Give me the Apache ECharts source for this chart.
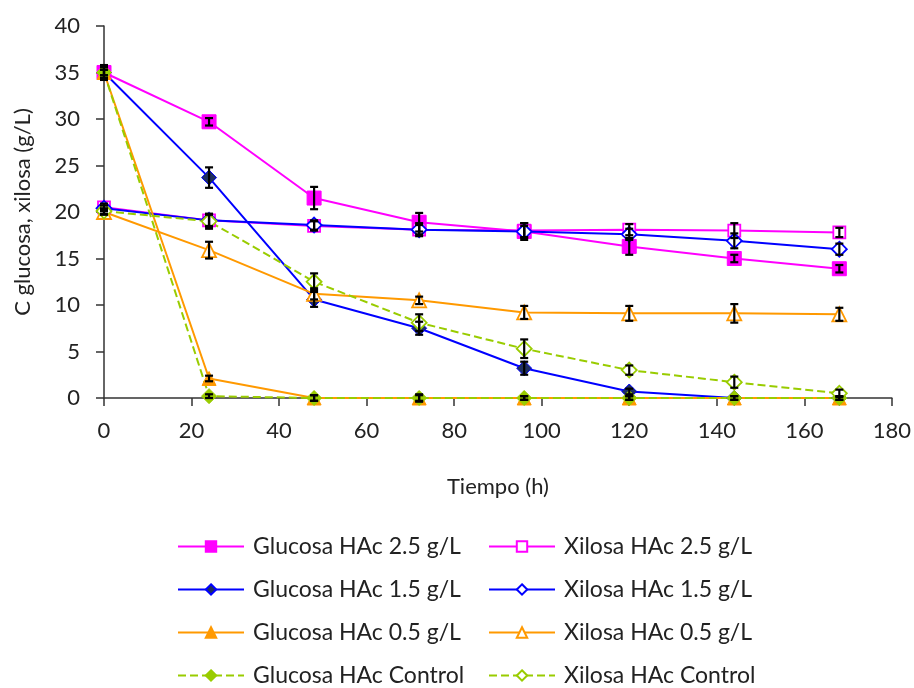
<!DOCTYPE html>
<html>
<head>
<meta charset="utf-8">
<script src="https://cdn.jsdelivr.net/npm/echarts@6/dist/echarts.min.js"></script>
<style>html,body{margin:0;padding:0;background:#fff}#c{width:914px;height:688px}</style>
</head>
<body>
<div id="c"></div>
<script>
const tiempo = [0, 24, 48, 72, 96, 120, 144, 168];

const glucosa25 = [35.0, 29.7, 21.5, 18.9, 17.9, 16.3, 15.0, 13.9];
const xilosa25  = [20.5, 19.1, 18.5, 18.1, 18.0, 18.1, 18.0, 17.8];
const glucosa15 = [35.0, 23.7, 10.6, 7.5, 3.2, 0.7, 0.0, 0.0];
const xilosa15  = [20.4, 19.1, 18.6, 18.1, 17.9, 17.6, 16.9, 16.0];
const glucosa05 = [35.0, 2.1, 0.0, 0.0, 0.0, 0.0, 0.0, 0.0];
const xilosa05  = [20.0, 15.9, 11.2, 10.5, 9.2, 9.1, 9.1, 9.0];
const glucosaC  = [35.0, 0.2, 0.0, 0.0, 0.0, 0.0, 0.0, 0.0];
const xilosaC   = [20.1, 19.0, 12.5, 8.1, 5.3, 3.0, 1.7, 0.5];

const errG25 = [0.6, 0.4, 1.2, 1.0, 0.9, 0.9, 0.4, 0.4];
const errX25 = [0.4, 0.6, 0.5, 0.7, 0.8, 0.6, 0.8, 0.5];
const errG15 = [0.8, 1.1, 0.8, 0.7, 0.7, 0.3, 0.0, 0.0];
const errX15 = [0.3, 0.7, 0.5, 0.5, 0.6, 0.6, 0.8, 0.6];
const errG05 = [0.3, 0.3, 0.3, 0.3, 0.2, 0.2, 0.2, 0.2];
const errX05 = [0.3, 0.9, 0.6, 0.4, 0.7, 0.8, 1.0, 0.7];
const errGC  = [0.3, 0.2, 0.3, 0.4, 0.2, 0.2, 0.2, 0.2];
const errXC  = [0.3, 0.8, 0.9, 0.9, 1.0, 0.5, 0.6, 0.4];

const names = [
  'Glucosa HAc 2.5 g/L', 'Xilosa HAc 2.5 g/L',
  'Glucosa HAc 1.5 g/L', 'Xilosa HAc 1.5 g/L',
  'Glucosa HAc 0.5 g/L', 'Xilosa HAc 0.5 g/L',
  'Glucosa HAc Control', 'Xilosa HAc Control'
];
const xTicks = [0, 20, 40, 60, 80, 100, 120, 140, 160, 180];
const yTicks = [0, 5, 10, 15, 20, 25, 30, 35, 40];

const MAG = '#FF00FF', BLUE = '#0000FF', NAVY = '#1F2F5F', ORA = '#FF9900', GRN = '#99CC00';
const FONT = 'Lato';

function pairs(vals) { return tiempo.map((t, i) => [t, vals[i]]); }

function mkLine(name, vals, color, symbol, fill, dashed, size) {
  return {
    name: name, type: 'line', data: pairs(vals),
    symbol: symbol, symbolSize: size,
    showAllSymbol: true,
    lineStyle: { color: color, width: 2, type: dashed ? [8, 4] : 'solid' },
    itemStyle: { color: fill, borderColor: color, borderWidth: (fill === '#fff') ? 1.8 : 1 },
    emphasis: { disabled: true },
    z: 3
  };
}

const seriesDefs = [
  [names[0], glucosa25, errG25, MAG, 'rect', MAG, false, 14],
  [names[1], xilosa25, errX25, MAG, 'rect', '#fff', false, 12],
  [names[2], glucosa15, errG15, BLUE, 'diamond', NAVY, false, 15],
  [names[3], xilosa15, errX15, BLUE, 'diamond', '#fff', false, 15],
  [names[4], glucosa05, errG05, ORA, 'triangle', ORA, false, 14],
  [names[5], xilosa05, errX05, ORA, 'triangle', '#fff', false, 14],
  [names[6], glucosaC, errGC, GRN, 'diamond', GRN, true, 15],
  [names[7], xilosaC, errXC, GRN, 'diamond', '#fff', true, 15]
];

const series = [];
const errData = [];
seriesDefs.forEach(d => {
  series.push(mkLine(d[0], d[1], d[3], d[4], d[5], d[6], d[7]));
  d[1].forEach((v, i) => { if (d[2][i] > 0) errData.push([tiempo[i], v, d[2][i]]); });
});

series.push({
  type: 'custom', name: 'err', data: errData, z: 10, silent: true,
  encode: { x: 0, y: 1 },
  renderItem: function (params, api) {
    const x = api.value(0), y = api.value(1), e = api.value(2);
    const t = api.coord([x, y + e]);
    const b = api.coord([x, y - e]);
    const w = 4;
    const st = { stroke: '#000', lineWidth: 2.2 };
    return {
      type: 'group',
      children: [
        { type: 'line', shape: { x1: t[0], y1: t[1], x2: b[0], y2: b[1] }, style: st },
        { type: 'line', shape: { x1: t[0] - w, y1: t[1], x2: t[0] + w, y2: t[1] }, style: st },
        { type: 'line', shape: { x1: b[0] - w, y1: b[1], x2: b[0] + w, y2: b[1] }, style: st }
      ]
    };
  }
});

const legendCommon = {
  orient: 'vertical', itemWidth: 66, itemHeight: 13, itemGap: 20,
  padding: 0, height: 200, width: 300,
  textStyle: { fontFamily: FONT, fontSize: 23, color: '#222', padding: [0, 0, 0, 4] },
  selectedMode: false
};

const chart = echarts.init(document.getElementById('c'), null, { renderer: 'canvas' });
chart.setOption({
  animation: false,
  backgroundColor: '#fff',
  grid: { left: 104, top: 26, right: 22, bottom: 290, containLabel: false },
  xAxis: {
    type: 'value', min: 0, max: 180, interval: 20,
    name: 'Tiempo (h)', nameLocation: 'middle', nameGap: 78,
    nameTextStyle: { fontFamily: FONT, fontSize: 22, color: '#222' },
    axisLine: { show: true, lineStyle: { color: '#333', width: 1.5 } },
    axisTick: { show: true, length: 8, inside: false, lineStyle: { color: '#333', width: 1.5 } },
    axisLabel: { fontFamily: FONT, fontSize: 22, color: '#222', margin: 22,
      formatter: v => xTicks.indexOf(v) >= 0 ? String(v) : '' },
    splitLine: { show: false }
  },
  yAxis: {
    type: 'value', min: 0, max: 40, interval: 5,
    name: 'C glucosa, xilosa (g/L)', nameLocation: 'middle', nameGap: 70,
    nameTextStyle: { fontFamily: FONT, fontSize: 22, color: '#222' },
    axisLine: { show: true, lineStyle: { color: '#333', width: 1.5 } },
    axisTick: { show: true, length: 8, lineStyle: { color: '#333', width: 1.5 } },
    axisLabel: { fontFamily: FONT, fontSize: 22, color: '#222', margin: 24,
      formatter: v => yTicks.indexOf(v) >= 0 ? String(v) : '' },
    splitLine: { show: false }
  },
  legend: [
    Object.assign({}, legendCommon, { left: 177, top: 535, data: [names[0], names[2], names[4], names[6]] }),
    Object.assign({}, legendCommon, { left: 488, top: 535, data: [names[1], names[3], names[5], names[7]] })
  ],
  series: series
});
</script>
</body>
</html>
